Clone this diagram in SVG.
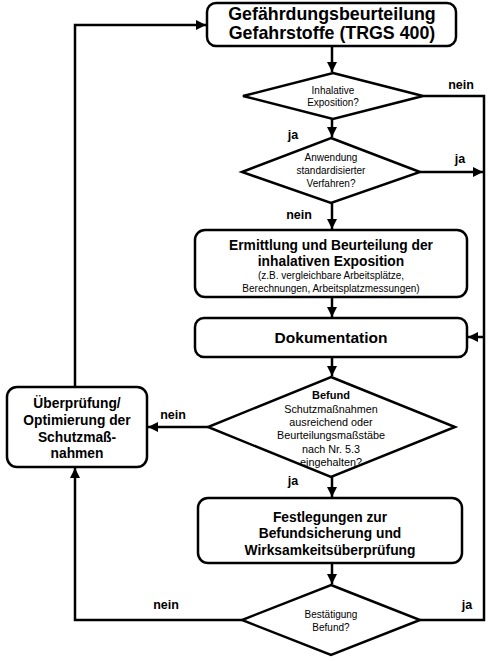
<svg xmlns="http://www.w3.org/2000/svg" width="494" height="661" viewBox="0 0 494 661">
<defs>
<marker id="ah" viewBox="0 0 10 10" refX="10" refY="5" markerWidth="4" markerHeight="4" orient="auto" markerUnits="strokeWidth">
<path d="M0,0 L10,5 L0,10 z" fill="#000"/>
</marker>
<style>
.box{fill:#fff;stroke:#000;stroke-width:2.5}
.con{fill:none;stroke:#000;stroke-width:2.5}
.arr{marker-end:url(#ah)}
text{font-family:"Liberation Sans",Arial,sans-serif;fill:#000;text-anchor:middle}
.b{font-weight:bold}
.t1{font-size:17.8px;font-weight:bold}
.t2{font-size:13.8px;font-weight:bold}
.t3{font-size:10px}
.t4{font-size:10.8px}
.lab{font-size:12.5px;font-weight:bold}
</style>
</defs>
<rect width="494" height="661" fill="#fff"/>
<g id="connectors">
<path class="con arr" d="M332,46 V72"/>
<path class="con arr" d="M332,119 V137"/>
<path class="con arr" d="M332,203 V229"/>
<path class="con arr" d="M332,297 V317"/>
<path class="con arr" d="M332,357 V376"/>
<path class="con arr" d="M332,477 V497"/>
<path class="con arr" d="M332,563 V584"/>
<path class="con" d="M423,96 H484 V620 H420"/>
<path class="con arr" d="M420,172 H483"/>
<path class="con arr" d="M484,337 H468"/>
<path class="con arr" d="M208,427 H148"/>
<path class="con arr" d="M75,387 V25 H206"/>
<path class="con arr" d="M242,620 H75 V468"/>
</g>
<g id="n1"><rect class="box" x="207" y="3" width="249" height="43" rx="9"/>
<text class="t1" x="332" y="20">Gefährdungsbeurteilung</text>
<text class="t1" x="332" y="39">Gefahrstoffe (TRGS 400)</text></g>
<g id="d1"><polygon class="box" points="333,73 423,96 333,119 243,96"/>
<text class="t3" x="333" y="94">Inhalative</text>
<text class="t3" x="333" y="106">Exposition?</text></g>
<g id="d2"><polygon class="box" points="331,138 420,172 331,203 242,172"/>
<text class="t3" x="331" y="161">Anwendung</text>
<text class="t3" x="331" y="174">standardisierter</text>
<text class="t3" x="331" y="187">Verfahren?</text></g>
<g id="n3"><rect class="box" x="195" y="230" width="272" height="67" rx="10"/>
<text class="t2" x="331" y="250">Ermittlung und Beurteilung der</text>
<text class="t2" x="331" y="266">inhalativen Exposition</text>
<text class="t3" x="331" y="279">(z.B. vergleichbare Arbeitsplätze,</text>
<text class="t3" x="331" y="292">Berechnungen, Arbeitsplatzmessungen)</text></g>
<g id="n4"><rect class="box" x="195" y="318" width="272" height="39" rx="9"/>
<text class="b" x="331" y="343" font-size="15.5">Dokumentation</text></g>
<g id="d3"><polygon class="box" points="331,377 455,427 331,477 208,427"/>
<text class="b" x="331" y="399" font-size="11">Befund</text>
<text class="t4" x="331" y="413">Schutzmaßnahmen</text>
<text class="t4" x="331" y="426">ausreichend  oder</text>
<text class="t4" x="331" y="439">Beurteilungsmaßstäbe</text>
<text class="t4" x="331" y="453">nach  Nr. 5.3</text>
<text class="t4" x="331" y="466">eingehalten?</text></g>
<g id="n6"><rect class="box" x="7" y="387" width="140" height="80" rx="10"/>
<text class="t2" x="77" y="408">Überprüfung/</text>
<text class="t2" x="77" y="425">Optimierung der</text>
<text class="t2" x="77" y="442">Schutzmaß-</text>
<text class="t2" x="77" y="458">nahmen</text></g>
<g id="n5"><rect class="box" x="198" y="498" width="264" height="65" rx="10"/>
<text class="t2" x="330" y="522">Festlegungen zur</text>
<text class="t2" x="330" y="538">Befundsicherung und</text>
<text class="t2" x="330" y="555">Wirksamkeitsüberprüfung</text></g>
<g id="d4"><polygon class="box" points="331,585 420,620 331,655 242,620"/>
<text class="t3" x="331" y="618">Bestätigung</text>
<text class="t3" x="331" y="631">Befund?</text></g>
<g id="labels">
<text class="lab" x="461" y="89">nein</text>
<text class="lab" x="293" y="139">ja</text>
<text class="lab" x="460" y="163">ja</text>
<text class="lab" x="299" y="219">nein</text>
<text class="lab" x="173" y="419">nein</text>
<text class="lab" x="293" y="485">ja</text>
<text class="lab" x="166" y="609">nein</text>
<text class="lab" x="467" y="609">ja</text>
</g>
</svg>
